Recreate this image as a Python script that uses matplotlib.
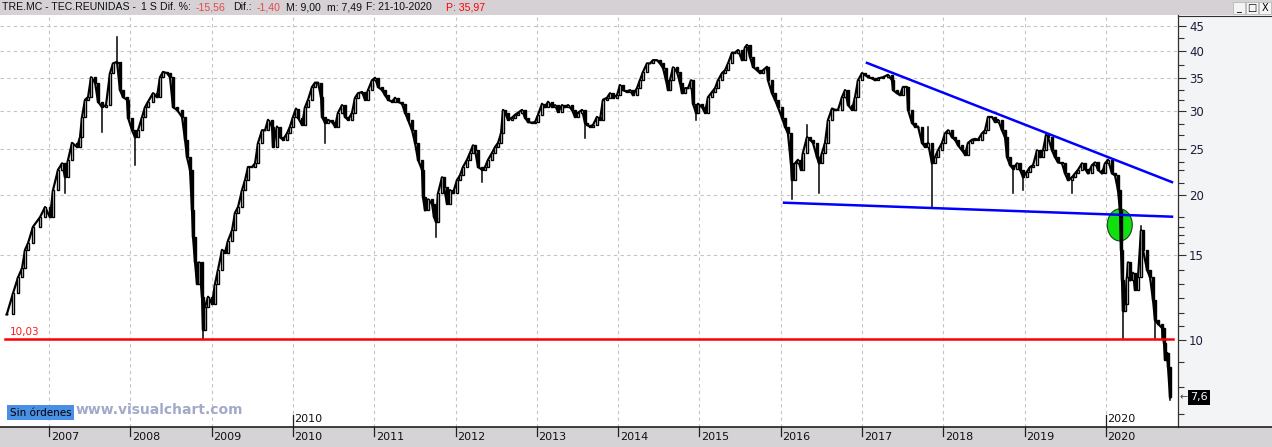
import numpy as np
import matplotlib
matplotlib.use('Agg')
import matplotlib.pyplot as plt
from matplotlib.patches import Ellipse, Rectangle
from matplotlib.transforms import ScaledTranslation, blended_transform_factory

# TRE.MC weekly closes (decimal year, price)
dates = [
    2006.480, 2006.557, 2006.619, 2006.668, 2006.705, 2006.742, 2006.803, 2006.889, 2006.951,
    2007.012, 2007.049, 2007.111, 2007.160, 2007.197, 2007.234, 2007.283, 2007.344, 2007.381,
    2007.406, 2007.443, 2007.480, 2007.517, 2007.566, 2007.603, 2007.652, 2007.701, 2007.750,
    2007.787, 2007.836, 2007.873, 2007.910, 2007.959, 2007.972,
    2008.021, 2008.058, 2008.095, 2008.144, 2008.181, 2008.218, 2008.279, 2008.328, 2008.365,
    2008.402, 2008.451, 2008.488, 2008.525, 2008.574, 2008.636, 2008.673, 2008.697, 2008.734,
    2008.759, 2008.771, 2008.796, 2008.820, 2008.845, 2008.882, 2008.894, 2008.919, 2008.956,
    2009.005, 2009.042, 2009.079, 2009.128, 2009.165, 2009.202, 2009.251, 2009.288, 2009.325,
    2009.374, 2009.411, 2009.448, 2009.497, 2009.534, 2009.571, 2009.620, 2009.657, 2009.694,
    2009.743, 2009.755, 2009.804, 2009.841, 2009.878, 2009.927, 2009.964,
    2010.001, 2010.038, 2010.063, 2010.112, 2010.149, 2010.186, 2010.235, 2010.272, 2010.309,
    2010.346, 2010.358, 2010.395, 2010.432, 2010.481, 2010.518, 2010.555, 2010.604, 2010.641,
    2010.678, 2010.727, 2010.764, 2010.801, 2010.850, 2010.887, 2010.924, 2010.973,
    2011.010, 2011.047, 2011.096, 2011.133, 2011.170, 2011.219, 2011.256, 2011.293, 2011.342,
    2011.379, 2011.416, 2011.465, 2011.502, 2011.539, 2011.588, 2011.600, 2011.625, 2011.662,
    2011.711, 2011.736, 2011.760, 2011.785, 2011.834, 2011.859, 2011.895, 2011.932, 2011.969,
    2012.018, 2012.055, 2012.092, 2012.141, 2012.178, 2012.215, 2012.240, 2012.277, 2012.326,
    2012.363, 2012.400, 2012.449, 2012.486, 2012.523, 2012.560, 2012.584, 2012.609, 2012.646,
    2012.695, 2012.732, 2012.769, 2012.818, 2012.855, 2012.892, 2012.941, 2012.978,
    2013.015, 2013.064, 2013.101, 2013.138, 2013.187, 2013.224, 2013.261, 2013.310, 2013.347,
    2013.384, 2013.433, 2013.470, 2013.507, 2013.556, 2013.593, 2013.617, 2013.654, 2013.691,
    2013.740, 2013.777, 2013.814, 2013.863, 2013.900, 2013.937, 2013.986,
    2014.023, 2014.060, 2014.109, 2014.146, 2014.183, 2014.232, 2014.269, 2014.306, 2014.355,
    2014.392, 2014.429, 2014.478, 2014.515, 2014.552, 2014.589, 2014.614, 2014.638, 2014.675,
    2014.724, 2014.761, 2014.786, 2014.823, 2014.860, 2014.897, 2014.921, 2014.958, 2014.983,
    2015.032, 2015.069, 2015.106, 2015.155, 2015.192, 2015.229, 2015.278, 2015.315, 2015.352,
    2015.401, 2015.438, 2015.475, 2015.524, 2015.561, 2015.585, 2015.622, 2015.659, 2015.708,
    2015.745, 2015.782, 2015.831, 2015.843, 2015.892, 2015.929, 2015.966,
    2016.015, 2016.052, 2016.089, 2016.126, 2016.138, 2016.175, 2016.212, 2016.249, 2016.273,
    2016.323, 2016.360, 2016.397, 2016.446, 2016.471, 2016.508, 2016.545, 2016.582, 2016.631,
    2016.668, 2016.705, 2016.754, 2016.791, 2016.828, 2016.877, 2016.914, 2016.951,
    2017.000, 2017.037, 2017.074, 2017.123, 2017.160, 2017.197, 2017.258, 2017.320, 2017.369,
    2017.381, 2017.430, 2017.467, 2017.504, 2017.553, 2017.566, 2017.615, 2017.652, 2017.689,
    2017.738, 2017.775, 2017.812, 2017.861, 2017.898, 2017.935, 2017.984,
    2018.021, 2018.058, 2018.107, 2018.144, 2018.181, 2018.230, 2018.267, 2018.304, 2018.353,
    2018.390, 2018.427, 2018.476, 2018.513, 2018.550, 2018.599, 2018.636, 2018.673, 2018.722,
    2018.759, 2018.784, 2018.821, 2018.858, 2018.907, 2018.944, 2018.981,
    2019.030, 2019.067, 2019.104, 2019.153, 2019.190, 2019.227, 2019.264, 2019.288, 2019.337,
    2019.374, 2019.411, 2019.460, 2019.497, 2019.534, 2019.583, 2019.620, 2019.657, 2019.706,
    2019.743, 2019.780, 2019.829, 2019.866, 2019.903, 2019.952, 2019.989,
    2020.026, 2020.075, 2020.112, 2020.149, 2020.173, 2020.186, 2020.198, 2020.210, 2020.235,
    2020.259, 2020.272, 2020.296, 2020.333, 2020.358, 2020.395, 2020.432, 2020.456, 2020.506,
    2020.543, 2020.580, 2020.604, 2020.641, 2020.690, 2020.715, 2020.727, 2020.752, 2020.764,
    2020.789,
]
closes = [
    11.3, 12.5, 13.5, 14.1, 15.4, 15.9, 17.2, 18.0, 18.9,
    18.0, 20.5, 22.6, 23.3, 21.8, 23.7, 25.7, 25.2, 26.4,
    29.1, 31.6, 32.0, 35.2, 34.3, 31.3, 30.5, 30.8, 35.9,
    37.6, 37.9, 33.1, 32.0, 31.6, 29.0,
    27.3, 26.4, 27.3, 29.1, 30.5, 31.3, 32.6, 32.0, 35.2,
    36.1, 35.9, 35.2, 30.5, 30.1, 29.1, 26.1, 24.0, 22.6,
    18.6, 16.4, 14.5, 13.1, 14.5, 12.3, 10.5, 11.7, 12.3,
    11.9, 13.1, 14.0, 15.4, 15.2, 16.1, 16.9, 18.4, 18.9,
    20.5, 21.5, 22.9, 22.9, 23.3, 25.7, 27.3, 27.3, 28.7,
    27.8, 25.2, 27.8, 26.4, 26.1, 26.9, 27.8,
    29.1, 30.3, 29.0, 28.0, 30.5, 31.6, 33.6, 34.3, 34.3,
    32.0, 29.1, 28.3, 28.7, 28.4, 27.8, 29.7, 30.8, 29.1,
    28.7, 29.7, 31.9, 32.6, 32.8, 31.6, 33.1, 34.7,
    35.1, 33.6, 33.1, 32.3, 31.6, 31.3, 31.9, 31.3, 31.0,
    29.7, 28.7, 27.3, 25.7, 23.7, 22.6, 19.8, 18.6, 19.6,
    19.2, 18.0, 17.6, 20.2, 21.8, 20.8, 19.2, 20.5, 20.2,
    21.5, 22.0, 22.9, 23.7, 24.5, 25.4, 24.8, 22.9, 22.6,
    22.9, 23.7, 24.5, 25.2, 25.7, 26.9, 30.1, 29.7, 28.7,
    29.0, 29.4, 29.7, 30.1, 29.0, 28.4, 28.3, 28.4,
    29.4, 31.0, 30.5, 31.3, 30.5, 30.8, 29.8, 30.8, 30.5,
    30.8, 30.1, 29.1, 29.7, 30.1, 28.3, 28.0, 27.8, 28.0,
    29.1, 28.7, 31.6, 31.9, 32.6, 31.9, 32.3,
    33.9, 33.1, 32.8, 33.1, 32.3, 33.4, 34.7, 36.1, 37.6,
    37.6, 38.2, 38.2, 37.6, 36.8, 34.7, 33.1, 34.7, 36.9,
    36.1, 34.3, 32.6, 33.4, 33.4, 34.7, 31.0, 29.7, 31.0,
    30.5, 29.7, 32.0, 32.8, 33.4, 34.7, 35.9, 36.4, 37.6,
    39.6, 39.6, 40.1, 38.2, 40.6, 41.1, 38.8, 37.0, 36.4,
    35.9, 36.4, 37.0, 34.7, 32.6, 31.6, 30.5,
    29.0, 27.8, 26.9, 23.3, 21.5, 23.3, 23.7, 22.6, 24.5,
    26.4, 26.1, 25.7, 24.0, 23.3, 24.5, 25.7, 28.7, 30.3,
    30.1, 30.1, 32.0, 33.1, 30.8, 30.1, 32.0, 34.7,
    35.9, 35.6, 35.2, 35.0, 34.7, 35.0, 35.2, 35.6, 34.7,
    33.1, 32.6, 32.3, 33.6, 33.6, 30.1, 28.3, 27.8, 27.8,
    25.7, 25.2, 25.7, 23.3, 24.0, 24.8, 25.7,
    26.9, 27.3, 26.4, 26.1, 25.4, 24.8, 24.3, 25.7, 26.1,
    26.2, 26.1, 26.9, 27.3, 29.1, 29.1, 28.4, 28.7, 27.3,
    26.4, 24.0, 23.1, 22.7, 23.3, 22.6, 21.8,
    22.4, 22.9, 23.1, 24.8, 24.0, 24.8, 26.7, 26.4, 24.8,
    24.0, 23.4, 23.3, 22.2, 21.5, 21.8, 22.2, 22.6, 23.3,
    22.7, 22.2, 23.1, 23.4, 22.6, 22.2, 23.3,
    23.7, 22.2, 22.0, 20.5, 18.6, 15.4, 13.3, 11.5, 11.9,
    13.5, 14.5, 13.3, 13.8, 12.7, 13.5, 16.9, 15.4, 14.0,
    13.5, 12.1, 11.0, 10.8, 10.6, 9.85, 9.1, 9.4, 8.8,
    7.6,
]

# long shadows visible on the chart
wick_dates = [2007.197, 2007.652, 2007.836, 2008.058, 2008.894, 2010.395, 2011.760, 2012.326,
              2013.593, 2014.958, 2016.138, 2016.323, 2016.471, 2017.812, 2017.861, 2018.858,
              2018.981, 2019.583, 2020.210, 2020.432, 2020.604, 2020.690, 2020.789]
wick_values = [20.2, 27.1, 42.7, 23.1, 10.03, 25.7, 16.4, 21.3,
               26.3, 28.7, 19.6, 28.0, 20.2, 27.8, 18.8, 20.2,
               20.5, 20.2, 10.1, 17.3, 10.1, 10.1, 7.5]

# drawn studies
support_level = 10.03
upper_trend_dates = [2017.061, 2020.813]
upper_trend_values = [37.7, 21.3]
lower_trend_dates = [2016.041, 2020.813]
lower_trend_values = [19.3, 18.05]
break_date, break_value = 2020.171, 17.35
last_price = 7.6

years = list(range(2007, 2021))
price_ticks = [10, 15, 20, 25, 30, 35, 40, 45]
minor_ticks = [7, 8, 9, 10.7, 11.4, 12.2, 13.1, 14.0, 15.9, 16.5, 17.2, 18.05,
               21.2, 22.6, 23.5, 26.7, 28.1, 31.6, 33.1, 37.3, 42.4]

W, H = 1272, 447
fig = plt.figure(figsize=(W / 100, H / 100), dpi=100)
fig.patch.set_facecolor('white')

# chrome: title bar, bottom band, price panel
fig.add_artist(Rectangle((0, 1 - 15 / H), 1, 15 / H, transform=fig.transFigure,
                         facecolor='#d5d1d5', edgecolor='none', zorder=0))
fig.add_artist(Rectangle((0, 0), 1, 20 / H, transform=fig.transFigure,
                         facecolor='#d6d3d6', edgecolor='none', zorder=0))
fig.add_artist(Rectangle((1178 / W, 20 / H), 94 / W, 412 / H, transform=fig.transFigure,
                         facecolor='#f2f4f6', edgecolor='none', zorder=0))
fig.add_artist(plt.Line2D([1178 / W, 1], [1 - 15.5 / H] * 2, transform=fig.transFigure,
                          color='#303030', lw=0.8))
fig.add_artist(plt.Line2D([0, 1], [20 / H] * 2, transform=fig.transFigure,
                          color='#202020', lw=1.2, zorder=5))

ax = fig.add_axes([0, 20 / H, 1178 / W, 412 / H])
ax.set_facecolor('white')
ax.set_yscale('log')
ax.set_xlim(2006.397, 2020.887)
ax.set_ylim(6.592, 47.42)

for s in ['left', 'top', 'bottom']:
    ax.spines[s].set_visible(False)
ax.spines['right'].set_color('#303030')
ax.spines['right'].set_linewidth(0.9)

# grid
for y in years:
    ax.axvline(y, color='#c4c4c4', lw=0.8, dashes=(3, 3), zorder=1)
for p in price_ticks[1:]:
    ax.axhline(p, color='#c4c4c4', lw=0.8, dashes=(3, 3), zorder=1)

# y axis on the right
ax.yaxis.tick_right()
ax.set_yticks(price_ticks)
ax.set_yticklabels([str(p) for p in price_ticks])
ax.set_yticks(minor_ticks, minor=True)
ax.yaxis.set_minor_formatter(matplotlib.ticker.NullFormatter())
ax.tick_params(axis='y', which='major', length=6, width=0.8, color='#303030',
               labelsize=8.5, labelcolor='#1c1c3c', pad=2)
ax.tick_params(axis='y', which='minor', length=4, width=0.8, color='#303030')
ax.set_xticks([])

# year labels along the bottom
bt = blended_transform_factory(ax.transData, ax.transAxes)
for y in years:
    ax.plot([y, y], [0, -0.022], transform=bt, color='#202020', lw=0.9, clip_on=False)
    ax.annotate(str(y), xy=(y, 0), xycoords=bt, xytext=(1.2, -3.5), textcoords='offset points',
                ha='left', va='top', fontsize=8, color='#101010', annotation_clip=False)
for y in [2010, 2020]:
    ax.plot([y, y], [0, 0.028], transform=bt, color='#202020', lw=0.9)
    ax.annotate(str(y), xy=(y, 0), xycoords=bt, xytext=(1.2, 5.8), textcoords='offset points',
                ha='left', va='center', fontsize=8, color='#101010')

# candles: open taken as the previous close
c = np.array(closes)
d = np.array(dates)
o = np.concatenate([[c[0]], c[:-1]])
up = c >= o
lo = np.minimum(o, c)
hi = np.abs(c - o)
ax.plot(d, c, color='black', lw=1.6, zorder=3)
for dd, val in zip(wick_dates, wick_values):
    i = int(np.argmin(np.abs(d - dd)))
    ax.plot([d[i], d[i]], [c[i], val], color='black', lw=1.1, zorder=3)
ax.bar(d[up], hi[up], bottom=lo[up], width=0.034, facecolor='white', edgecolor='black',
       linewidth=1.0, zorder=4)
ax.bar(d[~up], hi[~up], bottom=lo[~up], width=0.034, facecolor='black', edgecolor='black',
       linewidth=1.0, zorder=4)

# studies
ax.axhline(support_level, xmin=0.004, xmax=0.9956, color='#ff0000', lw=1.8, zorder=5)
ax.annotate('10,03', xy=(2006.52, support_level), xytext=(0, 1.5), textcoords='offset points',
            ha='left', va='bottom', fontsize=7.5, color='#ff1a1a')
ax.plot(upper_trend_dates, upper_trend_values, color='#0000ff', lw=1.8, zorder=5)
ax.plot(lower_trend_dates, lower_trend_values, color='#0000ff', lw=1.8, zorder=5)
ell = Ellipse((0, 0), 0.25, 0.32, facecolor='#10e010', edgecolor='#204020', lw=0.8, zorder=2,
              transform=fig.dpi_scale_trans + ScaledTranslation(break_date, break_value, ax.transData))
ax.add_artist(ell)

# last price marker
ax.annotate('\u2190', xy=(1, last_price), xycoords=('axes fraction', 'data'), xytext=(1, 0),
            textcoords='offset points', ha='left', va='center', fontsize=7, color='#404040',
            annotation_clip=False)
ax.annotate('7,6', xy=(1, last_price), xycoords=('axes fraction', 'data'), xytext=(8.5, 0),
            textcoords='offset points', ha='left', va='center', fontsize=8, color='white',
            bbox=dict(boxstyle='square,pad=0.2', facecolor='black', edgecolor='none'),
            annotation_clip=False)

# watermark
fig.text(10 / W, 1 - 412.5 / H, 'Sin órdenes', ha='left', va='center', fontsize=7.5,
         color='black', bbox=dict(boxstyle='square,pad=0.25', facecolor='#4a8fe6', edgecolor='none'))
fig.text(76 / W, 1 - 410 / H, 'www.visualchart.com', ha='left', va='center', fontsize=10,
         fontweight='bold', color='#a3a9c9')

# title bar pieces
title_parts = [
    (2, 'TRE.MC - TEC.REUNIDAS -', '#101010'),
    (141, '1 S', '#101010'),
    (160, 'Dif. %:', '#101010'),
    (196, '-15,56', '#e84848'),
    (233, 'Dif.:', '#101010'),
    (257, '-1,40', '#e84848'),
    (286, 'M: 9,00', '#101010'),
    (327, 'm: 7,49', '#101010'),
    (366, 'F: 21-10-2020', '#101010'),
    (446, 'P: 35,97', '#ff0000'),
]
for x, s, col in title_parts:
    fig.text(x / W, 1 - 7.5 / H, s, ha='left', va='center', fontsize=7.6, color=col,
             family='Liberation Sans')

# window buttons
for i, g in enumerate(['_', '\u25a1', 'X']):
    x0 = 1233 + i * 13
    fig.add_artist(Rectangle((x0 / W, 1 - 14 / H), 12 / W, 12 / H, transform=fig.transFigure,
                             facecolor='#f4f4f4', edgecolor='#b0b0b0', lw=0.5))
    fig.text((x0 + 6) / W, 1 - 8 / H, g, ha='center', va='center', fontsize=7, color='black')

fig.savefig('out.png', dpi=100)
